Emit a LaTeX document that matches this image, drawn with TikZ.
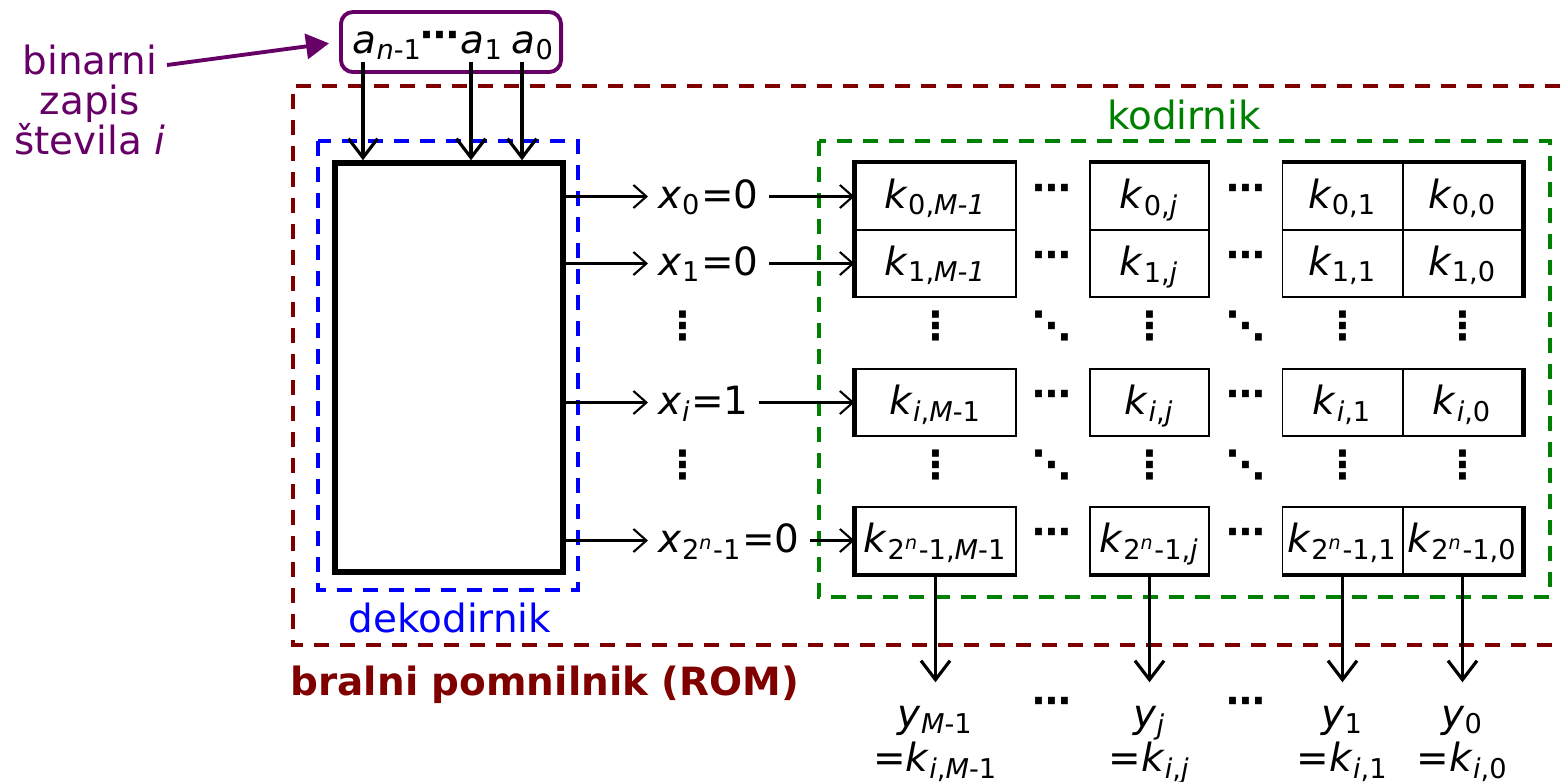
\documentclass[tikz,border=0pt]{standalone}
\usepackage{fontspec}
\setmainfont{DejaVu Sans}
\usetikzlibrary{arrows.meta}
\definecolor{romred}{HTML}{800000}
\definecolor{decblue}{HTML}{0000FF}
\definecolor{codgreen}{HTML}{008000}
\definecolor{binpurple}{HTML}{660066}
\newcommand{\sub}[1]{\textsubscript{#1}}
\newcommand{\kk}[2]{\textit{k}\sub{#1,#2}}
\newcommand{\hdts}{{\bfseries ⋯}}
\newcommand{\vdts}{{\bfseries ⋮}}
\newcommand{\ddts}{{\bfseries ⋱}}
\tikzset{
  varr/.style={-{Straight Barb[length=1.9mm,width=2.9mm]},line width=0.9pt},
  harr/.style={-{Straight Barb[length=1.3mm,width=2.3mm]},line width=0.6pt},
  parr/.style={-{Triangle[length=2.3mm,width=2.5mm]},line width=1.1pt,draw=binpurple,fill=binpurple},
  dashbox/.style={line width=1pt,dash pattern=on 0.15cm off 0.11cm},
  cell/.style={draw,line width=0.55pt,inner sep=0pt,minimum height=0.67cm,
    text height=0.3cm,text depth=0.07cm},
  thk/.style={line width=1.2pt},
  txt/.style={inner sep=0pt},
  lbl/.style={inner xsep=0.1cm,inner ysep=0pt,text height=0.3cm,text depth=0.07cm},
  ylbl/.style={lbl,inner ysep=0.14cm},
  dts/.style={inner sep=0pt},
}
\begin{document}
\begin{tikzpicture}[x=0.01cm,y=-0.01cm,font=\fontsize{11.06pt}{11.34pt}\selectfont]
  \useasboundingbox (0,0) rectangle (1560,781);
  % dashed frames
  \draw[dashbox,romred] (1560,86) -| (293,645) -- (1560,645);
  \draw[dashbox,decblue] (318,141) rectangle (578,590);
  \draw[dashbox,codgreen] (819,141) rectangle (1550,597);
  \node[txt,text=romred,anchor=base west] (romlab) at (290,695) {\bfseries bralni pomnilnik (ROM)};
  \node[txt,text=decblue,anchor=base] (declab) at (450,632) {dekodirnik};
  \node[txt,text=codgreen,anchor=base] (codlab) at (1184,129) {kodirnik};

  % input address
  \node[draw=binpurple,line width=1.1pt,rounded corners=0.12cm,
    minimum width=2.2cm,minimum height=0.6cm] (abox) at (451,42) {};
  \node[txt,anchor=base west] (an) at (352,53) {\textit{a}\sub{\textit{n}-1}};
  \node[txt] (ad) at (440,40) {\hdts};
  \node[txt,anchor=base west] (a1) at (460,53) {\textit{a}\sub{1}};
  \node[txt,anchor=base west] (a0) at (511,53) {\textit{a}\sub{0}};
  \node[txt,text=binpurple,align=center] (binlab) at (90,100) {binarni\\zapis\\števila \textit{i}};
  \coordinate (binr) at (167,65);
  \draw[parr,shorten >=0.1cm] (binr) -- (abox.west);

  % decoder
  \node[draw,line width=1.5pt,minimum width=2.28cm,minimum height=4.09cm,inner sep=0pt] (dec) at (449,367.5) {};
  \foreach \bt/\bx in {n/363,1/471,0/522}{
    \coordinate (b\bt) at (\bx,62);
    \draw[varr] (b\bt) -- (b\bt |- dec.north);
  }

  % memory cells
  \foreach \rw/\ry/\rs/\ms in {0/196.5/0/{\textit{M-1}},1/263.5/1/{\textit{M-1}},
      i/402.5/{\textit{i}}/{\textit{M}-1},L/540.5/{2\textsuperscript{\textit{n}}-1}/{\textit{M}-1}}{
    \foreach \cl/\cx/\cw/\cs in {M/935.5/1.6/\ms,j/1149.5/1.19/\textit{j},1/1342.5/1.2/1,0/1462.5/1.2/0}
      \node[cell,minimum width=\cw cm] (k\rw\cl) at (\cx,\ry) {\kk{\rs}{\cs}};
    \node[dts] (hd\rw a) at (1052,\ry-4) {\hdts};
    \node[dts] (hd\rw b) at (1246,\ry-4) {\hdts};
  }
  \draw[thk] (k1M.south west) |- (k0M.north east);
  \draw[thk] (k0j.north west) -- (k0j.north east);
  \draw[thk] (k01.north west) -| (k10.south east);
  \draw[thk] (kiM.north west) -- (kiM.south west);
  \draw[thk] (ki0.north east) -- (ki0.south east);
  \draw[thk] (kLM.north west) |- (kLM.south east);
  \draw[thk] (kLj.south west) -- (kLj.south east);
  \draw[thk] (kL1.south west) -| (kL0.north east);

  \foreach \dy in {326,465}{
    \node[dts] (vx\dy) at (683,\dy) {\vdts};
    \foreach \dx [count=\n] in {935.5,1149.5,1342.5,1462.5}
      \node[dts] (vd\n\dy) at (\dx,\dy) {\vdts};
    \node[dts] (dd1\dy) at (1052,\dy) {\ddts};
    \node[dts] (dd2\dy) at (1246,\dy) {\ddts};
  }

  % word lines
  \foreach \rw/\ry/\xv in {0/196.5/{\textit{x}\sub{0}=0},1/263.5/{\textit{x}\sub{1}=0},
      i/402.5/{\textit{x}\sub{\textit{i}}=1},L/540.5/{\textit{x}\sub{2\textsuperscript{\textit{n}}-1}=0}}{
    \node[lbl,anchor=west] (x\rw) at (648,\ry) {\xv};
    \draw[harr] (dec.east |- x\rw.west) -- (x\rw.west);
    \draw[harr] (x\rw.east) -- (k\rw M.west);
  }

  % outputs
  \foreach \cl/\cx/\yv/\ev in {M/935.5/{\textit{y}\sub{\textit{M}-1}}/{=\kk{\textit{i}}{\textit{M}-1}},
      j/1149.5/{\textit{y}\sub{\textit{j}}}/{=\kk{\textit{i}}{\textit{j}}},
      1/1342.5/{\textit{y}\sub{1}}/{=\kk{\textit{i}}{1}},
      0/1462.5/{\textit{y}\sub{0}}/{=\kk{\textit{i}}{0}}}{
    \node[ylbl,anchor=base] (y\cl) at (\cx,727) {\yv};
    \node[lbl,anchor=base] (e\cl) at (\cx,771) {\ev};
    \draw[varr] (kL\cl.south) -- (y\cl.north);
  }
  \node[dts] (yd1) at (1052,706) {\hdts};
  \node[dts] (yd2) at (1246,706) {\hdts};
\end{tikzpicture}
\end{document}
